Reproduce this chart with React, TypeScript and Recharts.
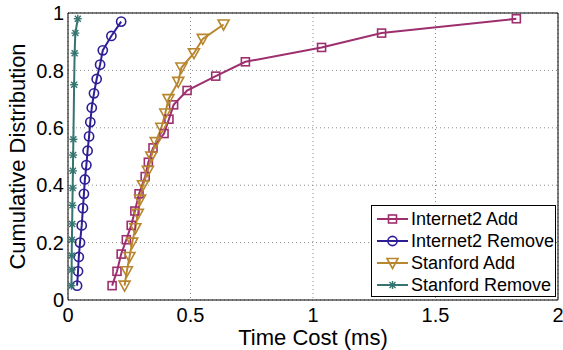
import React from 'react';
import { LineChart, Line, XAxis, YAxis, CartesianGrid, Label } from 'recharts';

const FONT = '"Liberation Sans", Arial, Helvetica, sans-serif';

const seriesNames = ['Internet2 Add', 'Internet2 Remove', 'Stanford Add', 'Stanford Remove'];
const seriesColors = ['#9E2F6F', '#2E1E96', '#B8862E', '#347570'];
const seriesMarkers = ['square', 'circle', 'triangle', 'star'];

const xTicks = [0, 0.5, 1, 1.5, 2];
const yTicks = [0, 0.2, 0.4, 0.6, 0.8, 1];

const i2AddX = [0.18, 0.2, 0.217, 0.238, 0.258, 0.273, 0.29, 0.315, 0.328, 0.347, 0.392, 0.412, 0.431, 0.486, 0.603, 0.724, 1.035, 1.28, 1.83];
const i2AddY = [0.05, 0.1, 0.16, 0.21, 0.26, 0.31, 0.37, 0.43, 0.48, 0.53, 0.58, 0.63, 0.68, 0.73, 0.78, 0.83, 0.88, 0.93, 0.98];

const i2RemX = [0.037, 0.041, 0.044, 0.049, 0.056, 0.061, 0.065, 0.069, 0.075, 0.08, 0.086, 0.091, 0.097, 0.106, 0.117, 0.131, 0.142, 0.177, 0.217];
const i2RemY = [0.05, 0.1, 0.15, 0.2, 0.26, 0.32, 0.37, 0.42, 0.47, 0.52, 0.57, 0.62, 0.67, 0.72, 0.77, 0.82, 0.87, 0.92, 0.97];

const stAddX = [0.231, 0.24, 0.251, 0.262, 0.275, 0.285, 0.294, 0.306, 0.326, 0.34, 0.358, 0.381, 0.397, 0.41, 0.45, 0.463, 0.514, 0.55, 0.635];
const stAddY = [0.05, 0.1, 0.15, 0.2, 0.25, 0.3, 0.35, 0.4, 0.45, 0.5, 0.55, 0.6, 0.65, 0.7, 0.76, 0.81, 0.86, 0.91, 0.96];

const stRemX = [0.014, 0.015, 0.015, 0.016, 0.017, 0.018, 0.019, 0.02, 0.021, 0.022, 0.025, 0.027, 0.03, 0.04];
const stRemY = [0.05, 0.105, 0.155, 0.21, 0.265, 0.33, 0.39, 0.45, 0.505, 0.56, 0.75, 0.86, 0.93, 0.98];

const toRows = (xs: number[], ys: number[]) => xs.map((x, i) => ({ x, y: ys[i] }));
const seriesData = [toRows(i2AddX, i2AddY), toRows(i2RemX, i2RemY), toRows(stAddX, stAddY), toRows(stRemX, stRemY)];

function Marker({ shape, cx, cy, color }: { shape: string; cx: number; cy: number; color: string }) {
  const sw = 1.6;
  if (cx == null || cy == null || isNaN(cx) || isNaN(cy)) return <g />;
  switch (shape) {
    case 'square':
      return <rect x={cx - 4} y={cy - 4} width={8} height={8} fill="none" stroke={color} strokeWidth={sw} />;
    case 'circle':
      return <circle cx={cx} cy={cy} r={4.6} fill="none" stroke={color} strokeWidth={sw} />;
    case 'triangle':
      return (
        <polygon
          points={`${cx - 5.5},${cy - 4.5} ${cx + 5.5},${cy - 4.5} ${cx},${cy + 5.5}`}
          fill="none"
          stroke={color}
          strokeWidth={sw}
          strokeLinejoin="miter"
        />
      );
    default:
      return (
        <g stroke={color} strokeWidth={1.4}>
          <line x1={cx - 4} y1={cy} x2={cx + 4} y2={cy} />
          <line x1={cx} y1={cy - 4} x2={cx} y2={cy + 4} />
          <line x1={cx - 3} y1={cy - 3} x2={cx + 3} y2={cy + 3} />
          <line x1={cx - 3} y1={cy + 3} x2={cx + 3} y2={cy - 3} />
        </g>
      );
  }
}

const tickStyle = { fill: '#000', fontSize: 20, fontFamily: FONT };

export default function App() {
  return (
    <div style={{ position: 'absolute', left: 0, top: 0, width: 563, height: 350, background: '#fff' }}>
      <LineChart width={563} height={350} margin={{ top: 13, right: 5, bottom: 0, left: 0 }}>
        <CartesianGrid stroke="#8a8a8a" strokeDasharray="1 3" />
        <XAxis
          xAxisId={0}
          dataKey="x"
          type="number"
          domain={[0, 2]}
          ticks={xTicks}
          allowDataOverflow
          height={50}
          tickLine={false}
          tickSize={6}
          tickMargin={2}
          axisLine={{ stroke: '#000', strokeWidth: 1 }}
          tick={tickStyle}
        >
          <Label value="Time Cost (ms)" position="insideBottom" offset={5} style={{ fill: '#000', fontSize: 22, fontFamily: FONT }} />
        </XAxis>
        <XAxis xAxisId="bm" type="number" domain={[0, 2]} ticks={xTicks} orientation="bottom" mirror height={1} tick={false} tickSize={5} axisLine={false} tickLine={{ stroke: '#000' }} />
        <XAxis xAxisId="tm" type="number" domain={[0, 2]} ticks={xTicks} orientation="top" mirror height={1} tick={false} tickSize={5} axisLine={{ stroke: '#000' }} tickLine={{ stroke: '#000' }} />
        <YAxis
          yAxisId={0}
          type="number"
          domain={[0, 1]}
          ticks={yTicks}
          allowDataOverflow
          width={68}
          tickLine={false}
          tickSize={2}
          tickMargin={2}
          axisLine={{ stroke: '#000', strokeWidth: 1 }}
          tick={tickStyle}
        >
          <Label value="Cumulative Distribution" angle={-90} position="center" dx={-17} style={{ fill: '#000', fontSize: 22, fontFamily: FONT, textAnchor: 'middle' }} />
        </YAxis>
        <YAxis yAxisId="lm" type="number" domain={[0, 1]} ticks={yTicks} orientation="left" mirror width={1} tick={false} tickSize={5} axisLine={false} tickLine={{ stroke: '#000' }} />
        <YAxis yAxisId="rm" type="number" domain={[0, 1]} ticks={yTicks} orientation="right" mirror width={1} tick={false} tickSize={5} axisLine={{ stroke: '#000' }} tickLine={{ stroke: '#000' }} />
        {seriesNames.map((name, si) => (
          <Line
            key={name}
            name={name}
            data={seriesData[si]}
            dataKey="y"
            type="linear"
            stroke={seriesColors[si]}
            strokeWidth={2}
            isAnimationActive={false}
            activeDot={false}
            dot={(p: any) => (
              <Marker key={`${name}-${p.index}`} shape={seriesMarkers[si]} cx={p.cx} cy={p.cy} color={seriesColors[si]} />
            )}
          />
        ))}
      </LineChart>
      <svg width={563} height={350} style={{ position: 'absolute', left: 0, top: 0, pointerEvents: 'none' }}>
        <rect x={371.5} y={205.5} width={184} height={91} fill="#fff" stroke="#000" strokeWidth={1} />
        {seriesNames.map((name, i) => {
          const cy = 219 + i * 22;
          return (
            <g key={name}>
              <line x1={377} x2={408} y1={cy} y2={cy} stroke={seriesColors[i]} strokeWidth={2} />
              <Marker shape={seriesMarkers[i]} cx={392.5} cy={cy} color={seriesColors[i]} />
              <text x={411} y={cy} dy="0.36em" fontSize={18} fontFamily={FONT} fill="#000">
                {name}
              </text>
            </g>
          );
        })}
      </svg>
    </div>
  );
}
